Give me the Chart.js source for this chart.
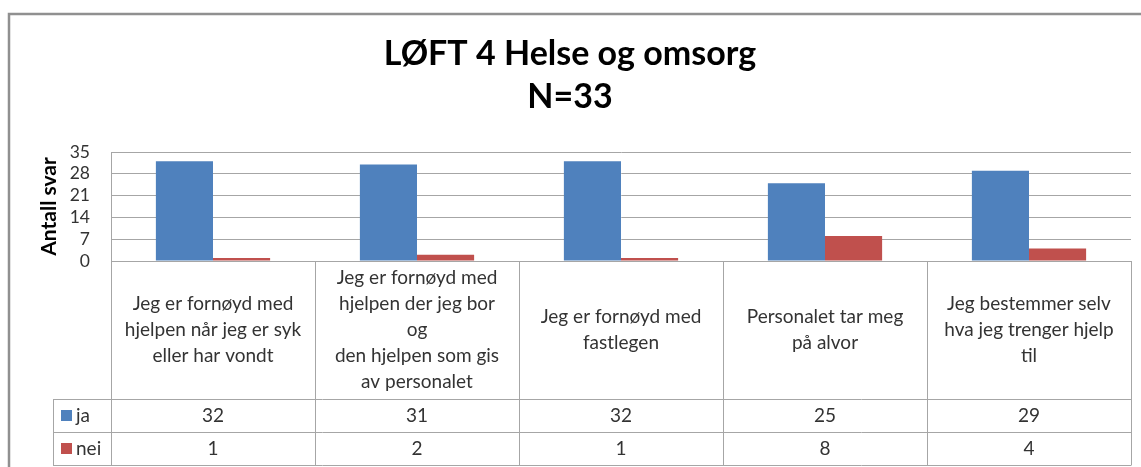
<!DOCTYPE html>
<html>
<head>
<meta charset="utf-8">
<script src="https://cdn.jsdelivr.net/npm/chart.js@4.4.1/dist/chart.umd.min.js"></script>
<style>
  html, body { margin: 0; padding: 0; background: #fff; }
  #wrap { width: 1141px; height: 467px; position: relative; }
</style>
</head>
<body>
<div id="wrap"><canvas id="chart"></canvas></div>
<script>
const ctx = document.getElementById('chart').getContext('2d');

// values
const categories = [
  ['Jeg er fornøyd med', 'hjelpen når jeg er syk', 'eller har vondt'],
  ['Jeg er fornøyd med', 'hjelpen der jeg bor', 'og', 'den hjelpen som gis', 'av personalet'],
  ['Jeg er fornøyd med', 'fastlegen'],
  ['Personalet tar meg', 'på alvor'],
  ['Jeg bestemmer selv', 'hva jeg trenger hjelp', 'til']
];
const seriesNames = ['ja', 'nei'];
const ja = [32, 31, 32, 25, 29];
const nei = [1, 2, 1, 8, 4];
const colors = ['#4F81BD', '#C0504D'];
const yMax = 35;
const yStep = 7;

const FONT = 'Lato';
const textColor = '#333';
const lineColor = '#a6a6a6';

// outer frame of the chart (only top and left edge are in view)
const framePlugin = {
  id: 'frame',
  beforeDraw(chart) {
    const c = chart.ctx;
    c.save();
    c.strokeStyle = '#909090';
    c.lineWidth = 2.5;
    c.beginPath();
    c.moveTo(9, chart.height + 5);
    c.lineTo(9, 14);
    c.lineTo(chart.width + 5, 14);
    c.stroke();
    c.restore();
  }
};

// the data table under the plot
const tablePlugin = {
  id: 'dataTable',
  afterDraw(chart) {
    const c = chart.ctx;
    const area = chart.chartArea;
    const x = chart.scales.x;
    const n = chart.data.labels.length;
    const top = area.bottom;
    const labelBottom = top + 138;
    const rowH = 33;
    const legendLeft = 53;

    const edges = [area.left];
    for (let i = 1; i < n; i++) {
      edges.push((x.getPixelForTick(i - 1) + x.getPixelForTick(i)) / 2);
    }
    edges.push(area.right);

    c.save();
    c.strokeStyle = lineColor;
    c.lineWidth = 1;
    c.beginPath();
    // horizontal lines
    c.moveTo(area.left, top + 0.5); c.lineTo(area.right, top + 0.5);
    for (let r = 0; r <= chart.data.datasets.length; r++) {
      const y = Math.round(labelBottom + r * rowH) + 0.5;
      c.moveTo(legendLeft, y); c.lineTo(area.right, y);
    }
    const tableBottom = labelBottom + chart.data.datasets.length * rowH;
    // vertical lines
    edges.forEach(e => {
      const xx = Math.round(e) + 0.5;
      c.moveTo(xx, top); c.lineTo(xx, tableBottom + 0.5);
    });
    c.moveTo(legendLeft + 0.5, labelBottom); c.lineTo(legendLeft + 0.5, tableBottom + 0.5);
    c.stroke();

    c.fillStyle = textColor;
    c.font = '19px ' + FONT;
    c.textAlign = 'center';
    c.textBaseline = 'middle';
    const lh = 26;
    const midLabel = (top + labelBottom) / 2;
    chart.data.labels.forEach((lines, i) => {
      const cx = x.getPixelForTick(i);
      const y0 = midLabel - (lines.length - 1) * lh / 2;
      lines.forEach((t, k) => c.fillText(t, cx, y0 + k * lh));
    });

    chart.data.datasets.forEach((ds, r) => {
      const cy = labelBottom + r * rowH + rowH / 2;
      c.textAlign = 'center';
      ds.data.forEach((v, i) => c.fillText(String(v), x.getPixelForTick(i), cy));
      c.fillStyle = ds.backgroundColor;
      c.fillRect(legendLeft + 8, cy - 5.5, 11, 11);
      c.fillStyle = textColor;
      c.textAlign = 'left';
      c.fillText(ds.label, legendLeft + 23, cy);
    });
    c.restore();
  }
};

const data = {
  labels: categories,
  datasets: [
    { label: seriesNames[0], data: ja, backgroundColor: colors[0] },
    { label: seriesNames[1], data: nei, backgroundColor: colors[1] }
  ]
};

const myChart = new Chart(ctx, {
  type: 'bar',
  data: data,
  options: {
    responsive: true,
    maintainAspectRatio: false,
    animation: false,
    layout: { padding: { left: 9, right: 10, top: 0, bottom: 0 } },
    datasets: {
      bar: { categoryPercentage: 0.56, barPercentage: 1.0 }
    },
    plugins: {
      legend: { display: false },
      tooltip: { enabled: false },
      title: {
        display: true,
        text: ['LØFT 4 Helse og omsorg', 'N=33'],
        color: '#000',
        font: { family: FONT, size: 34, weight: 'bold', lineHeight: '43px' },
        padding: { top: 33, bottom: 33 }
      }
    },
    scales: {
      x: {
        grid: { display: false },
        border: { display: false },
        ticks: { display: false },
        afterFit(scale) { scale.height = 206; }
      },
      y: {
        min: 0,
        max: yMax,
        ticks: {
          stepSize: yStep,
          autoSkip: false,
          color: textColor,
          font: { family: FONT, size: 17.5 },
          padding: 21
        },
        grid: { color: lineColor, drawTicks: false },
        border: { color: lineColor },
        title: {
          display: true,
          text: 'Antall svar',
          color: '#000',
          font: { family: FONT, size: 21, weight: 'bold' },
          padding: { top: 28, bottom: 0 }
        },
        afterFit(scale) { scale.width = 102; }
      }
    }
  },
  plugins: [framePlugin, tablePlugin]
});
</script>
</body>
</html>
